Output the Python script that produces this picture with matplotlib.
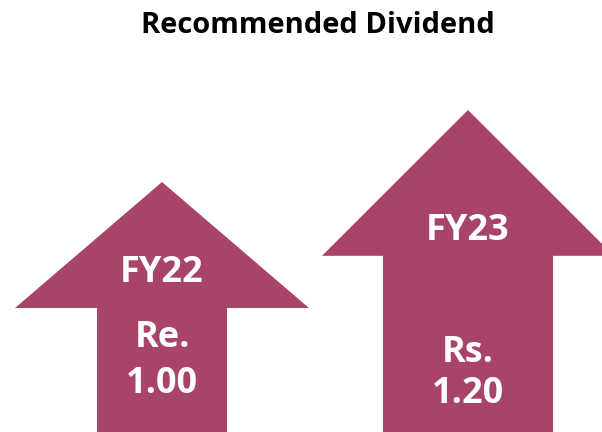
import matplotlib
matplotlib.use("Agg")
import matplotlib.pyplot as plt
from matplotlib.patches import Polygon

# data
years = ["FY22", "FY23"]
currency = ["Re.", "Rs."]
dividend = [1.00, 1.20]
value_labels = ["1.00", "1.20"]

# layout (x in pixel-like units, y in dividend units)
centers = [162, 468]
head_half = [147, 146]
shaft_half = [65, 85]
head_len = [0.35, 0.405]
year_y = [0.748, 0.865]
cur_y = [0.567, 0.526]
val_y = [0.44, 0.412]
color = "#A8436A"

plt.rcParams["font.family"] = ["Open Sans", "DejaVu Sans"]

fig = plt.figure(figsize=(6.02, 4.32), dpi=100)
ax = fig.add_axes([0, 0, 1, 1])
ax.set_xlim(0, 602)
ax.set_ylim(0.3056, 1.5056)
ax.axis("off")

for i, v in enumerate(dividend):
    c = centers[i]
    base = v - head_len[i]
    pts = [
        (c - shaft_half[i], 0),
        (c - shaft_half[i], base),
        (c - head_half[i], base),
        (c, v),
        (c + head_half[i], base),
        (c + shaft_half[i], base),
        (c + shaft_half[i], 0),
    ]
    ax.add_patch(Polygon(pts, closed=True, facecolor=color, edgecolor="none"))
    for txt, y in [(years[i], year_y[i]), (currency[i], cur_y[i]), (value_labels[i], val_y[i])]:
        ax.text(c, y, txt, ha="center", va="center",
                fontsize=26, fontweight="bold", color="white")

fig.text(0.528, 0.941, "Recommended Dividend", ha="center", va="center",
         fontsize=21, fontweight="bold", color="black")

fig.savefig("out.png", dpi=100)
plt.close(fig)
